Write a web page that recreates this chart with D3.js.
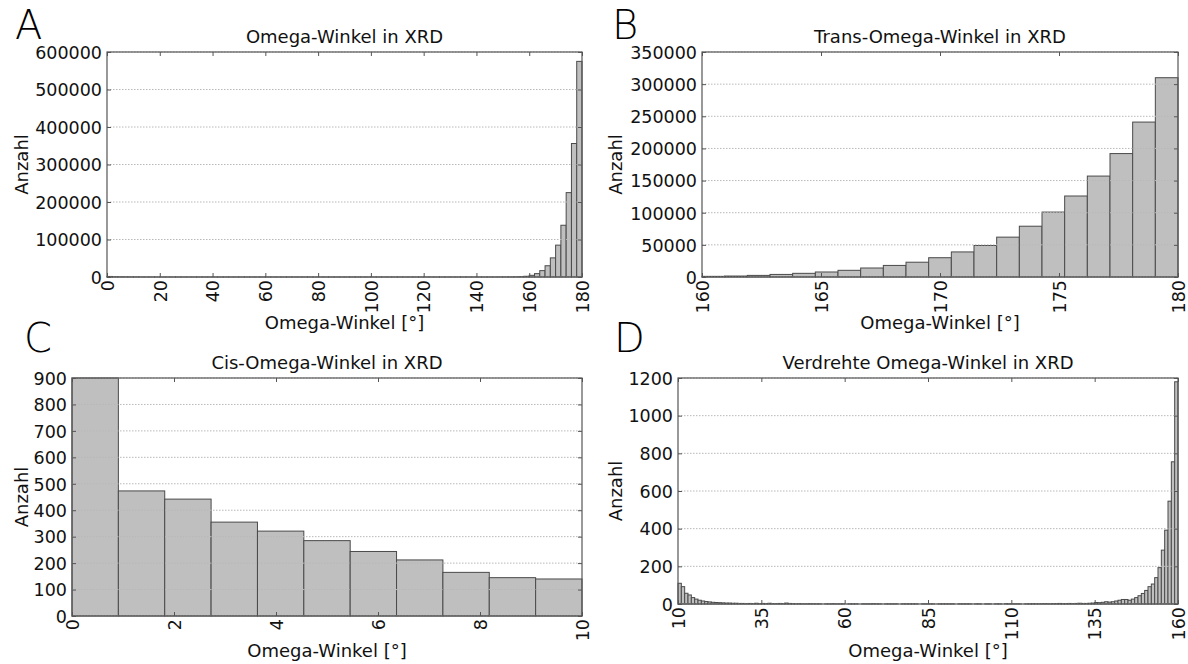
<!DOCTYPE html>
<html>
<head>
<meta charset="utf-8">
<script src="https://cdn.jsdelivr.net/npm/d3@7"></script>
<style>
  html, body { margin: 0; padding: 0; background: #fff; }
  svg { display: block; font-family: "DejaVu Sans", sans-serif; }
</style>
</head>
<body>
<svg id="chart" width="1188" height="664"></svg>
<script>
// --- 1. Data ---

// A: all omega angles, 2° bins from 0 to 180
const allRange = [0, 180];
const allCounts = [
  1450, 750, 560, 420, 300, 202, 105, 60, 36, 24,          // 0-18
  17, 13, 10, 8, 6, 5, 6, 5, 6, 4,                          // 20-38
  5, 8, 3, 3, 3, 2, 1, 2, 3, 2,                             // 40-58
  1, 2, 2, 2, 3, 1, 2, 1, 2, 2,                             // 60-78
  2, 1, 2, 1, 1, 2, 1, 2, 1, 1,                             // 80-98
  1, 2, 1, 1, 3, 2, 1, 3, 2, 3,                             // 100-118
  3, 4, 5, 5, 5, 7, 7, 13, 16, 22,                          // 120-138
  28, 44, 44, 60, 100, 164, 246, 479, 938, 1935,            // 140-158
  4500, 9000, 17000, 30000, 51000, 85000, 138000, 225000, 356000, 575000 // 160-178
];
const allXTicks = [0, 20, 40, 60, 80, 100, 120, 140, 160, 180];
const allYTicks = [0, 100000, 200000, 300000, 400000, 500000, 600000];

// B: trans omega angles, 21 bins from 160 to 180
const transRange = [160, 180];
const transCounts = [
  1000, 1500, 2500, 4000, 5700, 7800, 10400, 14000, 18000, 23000, 30000,
  39000, 49000, 62000, 79000, 101000, 126000, 157000, 192000, 241000, 310000
];
const transXTicks = [160, 165, 170, 175, 180];
const transYTicks = [0, 50000, 100000, 150000, 200000, 250000, 300000, 350000];

// C: cis omega angles, 11 bins from 0 to 10
const cisRange = [0, 10];
const cisCounts = [900, 473, 442, 355, 321, 285, 244, 212, 165, 145, 140];
const cisXTicks = [0, 2, 4, 6, 8, 10];
const cisYTicks = [0, 100, 200, 300, 400, 500, 600, 700, 800, 900];

// D: twisted omega angles, 1° bins from 10 to 160
const twistRange = [10, 160];
const twistCounts = [
  110, 92, 57, 48, 34, 26, 20, 16, 13, 11,     // 10-19
  9, 8, 7, 6, 5, 5, 4, 4, 3, 3,                // 20-29
  2, 3, 2, 4, 2, 3, 2, 4, 2, 2,                // 30-39
  3, 2, 5, 3, 2, 1, 2, 1, 1, 2,                // 40-49
  1, 1, 1, 0, 1, 1, 2, 1, 1, 1,                // 50-59
  0, 1, 1, 1, 0, 1, 1, 1, 2, 1,                // 60-69
  1, 0, 1, 1, 1, 1, 0, 1, 1, 1,                // 70-79
  1, 1, 0, 1, 1, 1, 1, 0, 1, 1,                // 80-89
  1, 1, 1, 0, 1, 1, 1, 1, 0, 1,                // 90-99
  1, 0, 1, 1, 0, 1, 1, 0, 2, 1,                // 100-109
  1, 1, 1, 0, 1, 1, 2, 1, 1, 2,                // 110-119
  2, 1, 2, 2, 3, 2, 2, 3, 2, 3,                // 120-129
  4, 3, 3, 4, 5, 8, 7, 9, 12, 10,              // 130-139
  12, 16, 20, 24, 24, 20, 26, 34, 44, 56,      // 140-149
  72, 92, 106, 140, 193, 286, 392, 546, 755, 1180 // 150-159
];
const twistXTicks = [10, 35, 60, 85, 110, 135, 160];
const twistYTicks = [0, 200, 400, 600, 800, 1000, 1200];

const panelLetters = ['A', 'B', 'C', 'D'];
const panelTitles = [
  'Omega-Winkel in XRD',
  'Trans-Omega-Winkel in XRD',
  'Cis-Omega-Winkel in XRD',
  'Verdrehte Omega-Winkel in XRD'
];
const xAxisLabel = 'Omega-Winkel [°]';
const yAxisLabel = 'Anzahl';

// --- 2. Layout (pixel boxes of the four plot areas) ---
const layout = [
  { x0: 107, x1: 582, y0: 52, y1: 277, letter: [15, 39], ylabX: 28, xlabY: 329 },
  { x0: 702, x1: 1178, y0: 52, y1: 277, letter: [612, 38.5], ylabX: 622, xlabY: 329 },
  { x0: 72, x1: 582, y0: 378, y1: 616, letter: [24, 352], ylabX: 28, xlabY: 657 },
  { x0: 678, x1: 1178, y0: 378, y1: 604, letter: [614, 352], ylabX: 622, xlabY: 657 }
];

const panels = [
  { range: allRange, counts: allCounts, xTicks: allXTicks, yTicks: allYTicks },
  { range: transRange, counts: transCounts, xTicks: transXTicks, yTicks: transYTicks },
  { range: cisRange, counts: cisCounts, xTicks: cisXTicks, yTicks: cisYTicks },
  { range: twistRange, counts: twistCounts, xTicks: twistXTicks, yTicks: twistYTicks }
];

const tickFont = 17.5;
const labelFont = 18;
const textColor = '#111';
const svg = d3.select('#chart');

// --- 3. Draw one histogram panel ---
function drawPanel(p, i) {
  const box = layout[i];
  const g = svg.append('g');

  const x = d3.scaleLinear().domain(p.range).range([box.x0, box.x1]);
  const yMax = p.yTicks[p.yTicks.length - 1];
  const y = d3.scaleLinear().domain([0, yMax]).range([box.y1, box.y0]);

  const binW = (p.range[1] - p.range[0]) / p.counts.length;
  const bins = p.counts.map((c, k) => ({
    lo: p.range[0] + k * binW,
    hi: p.range[0] + (k + 1) * binW,
    count: Math.min(c, yMax)
  }));

  // bars
  g.append('g').selectAll('rect')
    .data(bins)
    .join('rect')
    .attr('x', d => x(d.lo))
    .attr('width', d => x(d.hi) - x(d.lo))
    .attr('y', d => y(d.count))
    .attr('height', d => y(0) - y(d.count))
    .attr('fill', '#bfbfbf')
    .attr('stroke', '#4a4a4a')
    .attr('stroke-width', 1);

  // horizontal dotted grid (drawn over the bars, like the original)
  g.append('g').selectAll('line')
    .data(p.yTicks)
    .join('line')
    .attr('x1', box.x0).attr('x2', box.x1)
    .attr('y1', d => y(d)).attr('y2', d => y(d))
    .attr('stroke', '#b8b8b8')
    .attr('stroke-width', 1)
    .attr('stroke-dasharray', '1.5,1.5');

  // frame
  g.append('rect')
    .attr('x', box.x0).attr('y', box.y0)
    .attr('width', box.x1 - box.x0).attr('height', box.y1 - box.y0)
    .attr('fill', 'none')
    .attr('stroke', '#555')
    .attr('stroke-width', 1.2);

  // inward ticks on all four sides
  const styleAxis = sel => {
    sel.select('.domain').remove();
    sel.selectAll('.tick line').attr('stroke', '#555');
    sel.selectAll('.tick text')
      .attr('fill', textColor)
      .style('font-size', tickFont + 'px')
      .style('font-family', '"DejaVu Sans", sans-serif');
  };

  const bottom = g.append('g')
    .attr('transform', `translate(0,${box.y1})`)
    .call(d3.axisBottom(x).tickValues(p.xTicks).tickSize(-4).tickFormat(d3.format('d')))
    .call(styleAxis);
  bottom.selectAll('.tick text')
    .attr('transform', 'rotate(-90)')
    .attr('text-anchor', 'end')
    .attr('x', -3)
    .attr('y', 0)
    .attr('dy', '0.36em');

  g.append('g')
    .attr('transform', `translate(0,${box.y0})`)
    .call(d3.axisTop(x).tickValues(p.xTicks).tickSize(-4).tickFormat(''))
    .call(styleAxis);

  g.append('g')
    .attr('transform', `translate(${box.x0},0)`)
    .call(d3.axisLeft(y).tickValues(p.yTicks).tickSize(-4).tickPadding(5).tickFormat(d3.format('d')))
    .call(styleAxis)
    .selectAll('.tick text')
    .attr('dy', '0.36em');

  g.append('g')
    .attr('transform', `translate(${box.x1},0)`)
    .call(d3.axisRight(y).tickValues(p.yTicks).tickSize(-4).tickFormat(''))
    .call(styleAxis);

  // title
  g.append('text')
    .attr('x', (box.x0 + box.x1) / 2)
    .attr('y', box.y0 - 9)
    .attr('text-anchor', 'middle')
    .attr('fill', textColor)
    .style('font-size', labelFont + 'px')
    .text(panelTitles[i]);

  // axis labels
  g.append('text')
    .attr('x', (box.x0 + box.x1) / 2)
    .attr('y', box.xlabY)
    .attr('text-anchor', 'middle')
    .attr('fill', textColor)
    .style('font-size', labelFont + 'px')
    .text(xAxisLabel);

  g.append('text')
    .attr('transform', `translate(${box.ylabX},${(box.y0 + box.y1) / 2}) rotate(-90)`)
    .attr('text-anchor', 'middle')
    .attr('fill', textColor)
    .style('font-size', labelFont + 'px')
    .text(yAxisLabel);

  // panel letter
  g.append('text')
    .attr('x', box.letter[0])
    .attr('y', box.letter[1])
    .attr('fill', '#000')
    .style('font-size', '40px')
    .style('font-weight', 200)
    .text(panelLetters[i]);
}

// --- 4. Render ---
panels.forEach(drawPanel);
</script>
</body>
</html>
